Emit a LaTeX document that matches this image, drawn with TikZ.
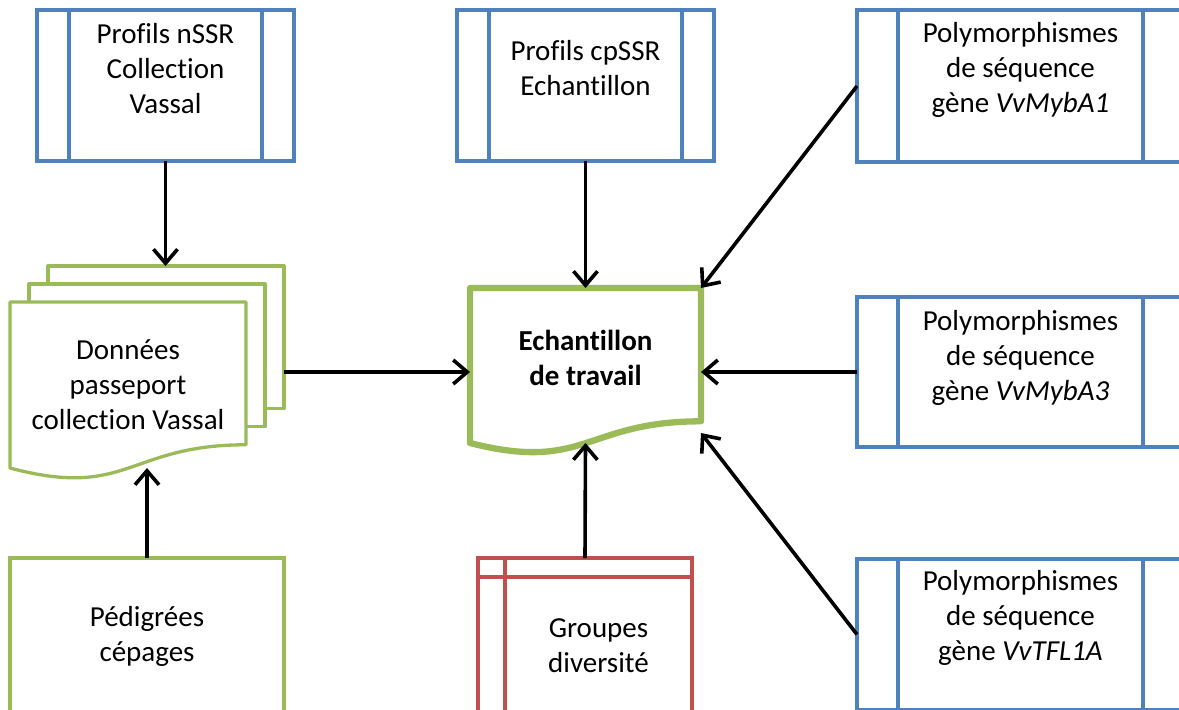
\documentclass[tikz,border=0pt]{standalone}
\usepackage{fontspec}
\setmainfont{Carlito}[Ligatures=NoCommon]
\usetikzlibrary{positioning}
\usetikzlibrary{arrows.meta}
\usetikzlibrary{calc}
\definecolor{bleuBox}{RGB}{79,129,189}
\definecolor{vertBox}{RGB}{155,187,89}
\definecolor{rougeBox}{RGB}{192,80,77}

\begin{document}
\begin{tikzpicture}[x=1pt,y=-1pt,
  bleu/.style={draw=bleuBox, line width=3.3pt, outer sep=0pt},
  vert/.style={draw=vertBox, line width=3.3pt, outer sep=0pt},
  rouge/.style={draw=rougeBox, line width=3.3pt, outer sep=0pt},
  doc/.style={outer sep=0pt, inner sep=0pt},
  texte/.style={align=center, font=\fontsize{29}{35}\selectfont},
  fleche/.style={line width=3.6pt, -{Straight Barb[length=14pt,width=24pt]}},
]
\newcommand\DocPath[1]{(#1.north west) -- (#1.north east) -- ($(#1.north east)!0.86!(#1.south east)$) .. controls ($(#1.north)!0.86!(#1.south)$) and ($(#1.north)!1.19!(#1.south)$) .. (#1.south west) -- cycle}
\useasboundingbox (0,0) rectangle (1179,710);
\clip (0,0) rectangle (1179,710);

% sources (bleu)
\node[bleu, minimum width=257, minimum height=151, label={[texte,yshift=17pt]center:{Profils nSSR\\Collection\\Vassal}}] (nssr) at (165.5,85.5) {};
\node[bleu, minimum width=257, minimum height=151, label={[texte,yshift=17pt]center:{Profils cpSSR\\Echantillon}}] (cpssr) at (585.5,85.5) {};
\node[bleu, minimum width=327, minimum height=152, label={[texte,yshift=16pt]center:{Polymorphismes\\de séquence\\gène \textit{VvMybA1}}}] (myba1) at (1020.5,86) {};
\node[bleu, minimum width=327, minimum height=150, label={[texte,yshift=14pt]center:{Polymorphismes\\de séquence\\gène \textit{VvMybA3}}}] (myba3) at (1020.5,372) {};
\node[bleu, minimum width=327, minimum height=151, label={[texte,yshift=16.5pt]center:{Polymorphismes\\de séquence\\gène \textit{VvTFL1A}}}] (tfl) at (1020.5,634.5) {};
\foreach \b/\d in {nssr/32,cpssr/32,myba1/41,myba3/41,tfl/41}{
  \draw[bleu] ([xshift=\d]\b.north west) -- ([xshift=\d]\b.south west);
  \draw[bleu] ([xshift=-\d]\b.north east) -- ([xshift=-\d]\b.south east);
}

% documents (vert)
\node[doc, texte, minimum width=236, minimum height=166] (donnees) at (128,385) {Données\\passeport\\collection Vassal};
\draw[vert, line join=round] \DocPath{donnees};
\draw[vert, line join=round] ([xshift=19]donnees.north west) -- ++(0,-18) -- ++(236,0) -- ++(0,142.8) -- ++(-19,0);
\draw[vert, line join=round] ([shift={(38,-18)}]donnees.north west) -- ++(0,-18) -- ++(236,0) -- ++(0,142.8) -- ++(-19,0);

\node[doc, minimum width=231, minimum height=155, label={[texte,font=\fontsize{29}{35}\selectfont\bfseries,yshift=8pt]center:{Echantillon\\de travail}}] (ech) at (585.5,365.5) {};
\draw[draw=vertBox, line width=6.3pt, line join=round] \DocPath{ech};

\node[vert, texte, minimum width=274, minimum height=156] (pedig) at (147,636) {Pédigrées\\cépages};

% groupes (rouge)
\node[rouge, minimum width=214, minimum height=156, label={[texte,xshift=13.5pt,yshift=-10pt]center:{Groupes\\diversité}}] (groupes) at (585,636) {};
\draw[rouge] ([yshift=-19pt]groupes.north west) -- ([yshift=-19pt]groupes.north east);
\draw[rouge] ([xshift=27pt]groupes.north west) -- ([xshift=27pt]groupes.south west);

% fleches
\draw[fleche] (nssr.south) -- ($(nssr.south |- donnees.north)+(0,-36)$);
\draw[fleche] (cpssr.south) -- (ech.north);
\draw[fleche] ($(donnees.east |- myba3.west)+(38,0)$) -- (ech.west |- myba3.west);
\draw[fleche] (myba1.west) -- (ech.north east);
\draw[fleche] (myba3.west) -- (ech.east |- myba3.west);
\draw[fleche] (tfl.west) -- ($(ech.south east)+(0,-10)$);
\draw[fleche] (pedig.north) -- (pedig.north |- donnees.south);
\draw[fleche] (groupes.north) -- (ech.south);
\end{tikzpicture}
\end{document}
